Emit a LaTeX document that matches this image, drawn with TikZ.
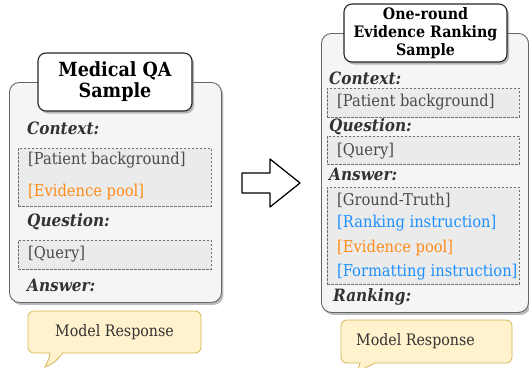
\documentclass[tikz,border=0pt]{standalone}
\usepackage{fontspec}
\setmainfont{DejaVu Serif Condensed}
\usetikzlibrary{shadows}
\definecolor{boxfill}{HTML}{F5F5F5}
\definecolor{boxline}{HTML}{666666}
\definecolor{dashfill}{HTML}{EBEBEB}
\definecolor{dashline}{HTML}{6E6E6E}
\definecolor{labtxt}{HTML}{333333}
\definecolor{itemtxt}{HTML}{4A4A4A}
\definecolor{evorange}{RGB}{255,140,26}
\definecolor{insblue}{RGB}{30,144,255}
\definecolor{bubfill}{HTML}{FFF2CC}
\definecolor{bubline}{HTML}{D6B656}
\tikzset{
  mainbox/.style={draw=boxline, fill=boxfill, line width=0.9pt, rounded corners=10pt,
    drop shadow={shadow xshift=2pt, shadow yshift=-2.5pt, fill=black!45, opacity=0.6},
    anchor=north west, inner sep=0pt},
  titlebox/.style={draw=black!85, fill=white, line width=1.1pt, rounded corners=8pt,
    drop shadow={shadow xshift=2pt, shadow yshift=-2.5pt, fill=black!45, opacity=0.6},
    inner sep=0pt, align=center, font=\bfseries, text=black},
  dashbox/.style={draw=dashline, fill=dashfill, line width=0.7pt, dash pattern=on 2.2pt off 1.8pt,
    anchor=north west, inner sep=0pt},
  lab/.style={anchor=west, inner sep=0pt, text=labtxt, font=\fontsize{17}{17}\selectfont\bfseries\itshape},
  item/.style={anchor=west, inner sep=0pt, text=itemtxt, font=\fontsize{16.3}{16.3}\selectfont},
  bubble/.style={draw=bubline, fill=bubfill, line width=0.8pt},
  bubtxt/.style={inner sep=0pt, text=labtxt, font=\fontsize{15.8}{15.8}\selectfont},
  blockarrow/.style={draw=black, fill=white, line width=1.2pt, line join=round}
}
\begin{document}
\begin{tikzpicture}[x=1pt,y=-1pt]
\useasboundingbox (0,0) rectangle (529,367);
% ---------- left panel ----------
\node[mainbox, minimum width=212pt, minimum height=220pt] (lbox) at (9,82) {};
\node[titlebox, minimum width=154pt, minimum height=58pt,
      font=\fontsize{19.5}{21}\selectfont\bfseries] (ltitle) at (115,82) {Medical QA\\Sample};
\node[lab] (lctx) at (27,128) {Context:};
\node[dashbox, minimum width=193pt, minimum height=58pt] (ldash1) at (18,148) {};
\node[item] (lpat) at (28,160) {[Patient background]};
\node[item, text=evorange] (lev) at (28,192) {[Evidence pool]};
\node[lab] (lq) at (27,222) {Question:};
\node[dashbox, minimum width=193pt, minimum height=29pt] (ldash2) at (18,240) {};
\node[item] (lquery) at (28,254) {[Query]};
\node[lab] (lans) at (27,285) {Answer:};
% bubble left
\path[bubble] (63,353) [rounded corners=6pt] -- (201,353) -- (201,311) -- (28,311) -- (28,353) [sharp corners] -- (50,353)
   .. controls (49,359) .. (45,367) .. controls (54,363) .. (63,353) -- cycle;
\node[bubtxt] (lresp) at (114.5,332.5) {Model Response};
% ---------- arrow ----------
\path[blockarrow] (242,173) -- (270,173) -- (270,159) -- (300,183) -- (270,207) -- (270,193) -- (242,193) -- cycle;
% ---------- right panel ----------
\node[mainbox, minimum width=207pt, minimum height=279pt] (rbox) at (321,33) {};
\node[titlebox, minimum width=163pt, minimum height=58pt,
      font=\fontsize{15.8}{18}\selectfont\bfseries] (rtitle) at (425.5,33) {One-round\\Evidence Ranking\\Sample};
\node[lab] (rctx) at (329,78) {Context:};
\node[dashbox, minimum width=192pt, minimum height=29pt] (rdash1) at (327,88) {};
\node[item] (rpat) at (337,102) {[Patient background]};
\node[lab] (rq) at (329,127) {Question:};
\node[dashbox, minimum width=192pt, minimum height=28pt] (rdash2) at (327,136) {};
\node[item] (rquery) at (337,151) {[Query]};
\node[lab] (rans) at (329,174) {Answer:};
\node[dashbox, minimum width=192pt, minimum height=97pt] (rdash3) at (327,187) {};
\node[item] (rgt) at (337,200) {[Ground-Truth]};
\node[item, text=insblue] (rrank) at (337,223.5) {[Ranking instruction]};
\node[item, text=evorange] (rev) at (337,248) {[Evidence pool]};
\node[item, text=insblue] (rfmt) at (337,272) {[Formatting instruction]};
\node[lab] (rrk) at (333,297) {Ranking:};
% bubble right
\path[bubble] (375,363) [rounded corners=6pt] -- (512,363) -- (512,320) -- (341,320) -- (341,363) [sharp corners] -- (360,363)
   .. controls (359,366) .. (357,372) .. controls (366,368) .. (375,363) -- cycle;
\node[bubtxt] (rresp) at (415.5,341.5) {Model Response};
\end{tikzpicture}
\end{document}
